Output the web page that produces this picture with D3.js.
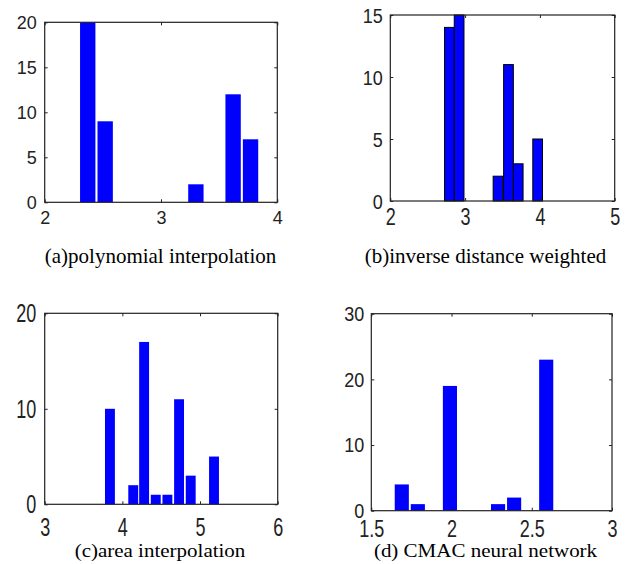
<!DOCTYPE html>
<html>
<head>
<meta charset="utf-8">
<script src="https://cdn.jsdelivr.net/npm/d3@7"></script>
<style>
  body { margin: 0; background: #fff; }
  svg { display: block; }
  .tick text { font-family: "Liberation Sans", Arial, sans-serif; font-size: 18px; fill: #222; }
  .caption { font-family: "Liberation Serif", "Times New Roman", serif; font-size: 21px; fill: #000; }
</style>
</head>
<body>
<div id="chart"></div>
<script>
/* Four histograms comparing interpolation methods */

// (a) polynomial interpolation
const polyBins = [2.37, 2.52, 2.68, 2.84, 2.99, 3.15, 3.30, 3.46, 3.62, 3.77];
const polyCounts = [20, 9, 0, 0, 0, 0, 2, 0, 12, 7];
const polyXTicks = [2, 3, 4];
const polyYTicks = [0, 5, 10, 15, 20];

// (b) inverse distance weighted
const idwBins = [2.79, 2.92, 3.05, 3.18, 3.31, 3.44, 3.58, 3.71, 3.84, 3.97];
const idwCounts = [14, 15, 0, 0, 0, 2, 11, 3, 0, 5];
const idwXTicks = [2, 3, 4, 5];
const idwYTicks = [0, 5, 10, 15];

// (c) area interpolation
const areaBins = [3.84, 3.99, 4.14, 4.28, 4.43, 4.58, 4.73, 4.88, 5.03, 5.18];
const areaCounts = [10, 0, 2, 17, 1, 1, 11, 3, 0, 5];
const areaXTicks = [3, 4, 5, 6];
const areaYTicks = [0, 10, 20];

// (d) CMAC neural network
const cmacBins = [1.69, 1.79, 1.89, 1.99, 2.09, 2.19, 2.29, 2.39, 2.49, 2.59];
const cmacCounts = [4, 1, 0, 19, 0, 0, 1, 2, 0, 23];
const cmacXTicks = [1.5, 2, 2.5, 3];
const cmacYTicks = [0, 10, 20, 30];

const captions = ["(a)polynomial interpolation", "(b)inverse distance weighted",
                  "(c)area interpolation", "(d) CMAC neural network"];

const width = 626, height = 564;

let svg = d3.select("#chart")
    .append("svg")
    .attr("width", width)
    .attr("height", height)
    .attr("viewBox", [0, 0, width, height]);

// layout of each panel (box in pixels, label offsets, vertical stretch of text)
const panels = [
    { bins: polyBins, counts: polyCounts, xTicks: polyXTicks, yTicks: polyYTicks, caption: captions[0],
      box: [44.7, 277.3, 22.3, 202.3], xDom: [2, 4], yDom: [0, 20], ratio: 0.88, edge: null,
      xOff: 15, xSy: 1.05, yGap: 8, ySy: 1.0, cap: [160.5, 262.5, 1] },
    { bins: idwBins, counts: idwCounts, xTicks: idwXTicks, yTicks: idwYTicks, caption: captions[1],
      box: [390.3, 614.7, 15, 201], xDom: [2, 5], yDom: [0, 15], ratio: 1.0, edge: "#000",
      xOff: 16, xSy: 1.3, yGap: 7.5, ySy: 1.15, cap: [485.5, 263, 1] },
    { bins: areaBins, counts: areaCounts, xTicks: areaXTicks, yTicks: areaYTicks, caption: captions[2],
      box: [44.7, 277.7, 313.3, 504.3], xDom: [3, 6], yDom: [0, 20], ratio: 0.85, edge: null,
      xOff: 23, xSy: 1.4, yGap: 8.5, ySy: 1.4, cap: [160, 557, 0.88] },
    { bins: cmacBins, counts: cmacCounts, xTicks: cmacXTicks, yTicks: cmacYTicks, caption: captions[3],
      box: [371.3, 612, 313.7, 510.7], xDom: [1.5, 3], yDom: [0, 30], ratio: 0.88, edge: null,
      xOff: 18, xSy: 1.3, yGap: 7, ySy: 1.1, cap: [485.5, 557, 0.88] }
];

for (let p of panels) {
    const [l, r, t, b] = p.box;
    let x = d3.scaleLinear().domain(p.xDom).range([l, r]);
    let y = d3.scaleLinear().domain(p.yDom).range([b, t]);
    let g = svg.append("g");

    // bars of the histogram
    const bw = (x(p.bins[1]) - x(p.bins[0])) * p.ratio;
    const data = p.bins.map((c, i) => ({ c: c, n: p.counts[i] })).filter(d => d.n > 0);
    g.append("g")
        .selectAll("rect")
        .data(data)
        .join("rect")
        .attr("x", d => x(d.c) - bw / 2)
        .attr("width", bw)
        .attr("y", d => y(d.n))
        .attr("height", d => y(0) - y(d.n))
        .attr("fill", "#0000ff")
        .attr("stroke", p.edge || "none")
        .attr("stroke-width", 1);

    // axes with inward ticks, matlab style
    const fmt = d3.format("~g");
    let xa = g.append("g")
        .attr("transform", `translate(0,${b})`)
        .call(d3.axisBottom(x).tickValues(p.xTicks).tickFormat(fmt).tickSize(-3));
    xa.selectAll("text")
        .attr("y", 0).attr("dy", null)
        .attr("dominant-baseline", "central")
        .attr("transform", `translate(0,${p.xOff}) scale(1,${p.xSy})`);

    g.append("g")
        .attr("transform", `translate(0,${t})`)
        .call(d3.axisTop(x).tickValues(p.xTicks).tickFormat("").tickSize(-3));

    let ya = g.append("g")
        .attr("transform", `translate(${l},0)`)
        .call(d3.axisLeft(y).tickValues(p.yTicks).tickFormat(fmt).tickSize(-3));
    ya.selectAll("text")
        .attr("x", 0).attr("dy", null)
        .attr("dominant-baseline", "central")
        .attr("transform", `translate(${-p.yGap},0) scale(1,${p.ySy})`);

    g.append("g")
        .attr("transform", `translate(${r},0)`)
        .call(d3.axisRight(y).tickValues(p.yTicks).tickFormat("").tickSize(-3));

    g.selectAll(".domain").remove();
    g.selectAll(".tick line").attr("stroke", "#222");

    // axes box
    g.append("rect")
        .attr("x", l).attr("y", t)
        .attr("width", r - l).attr("height", b - t)
        .attr("fill", "none")
        .attr("stroke", "#222")
        .attr("stroke-width", 1.2);

    // caption under the panel
    g.append("text")
        .attr("class", "caption")
        .attr("text-anchor", "middle")
        .attr("transform", `translate(${p.cap[0]},${p.cap[1]}) scale(1,${p.cap[2]})`)
        .text(p.caption);
}
</script>
</body>
</html>
